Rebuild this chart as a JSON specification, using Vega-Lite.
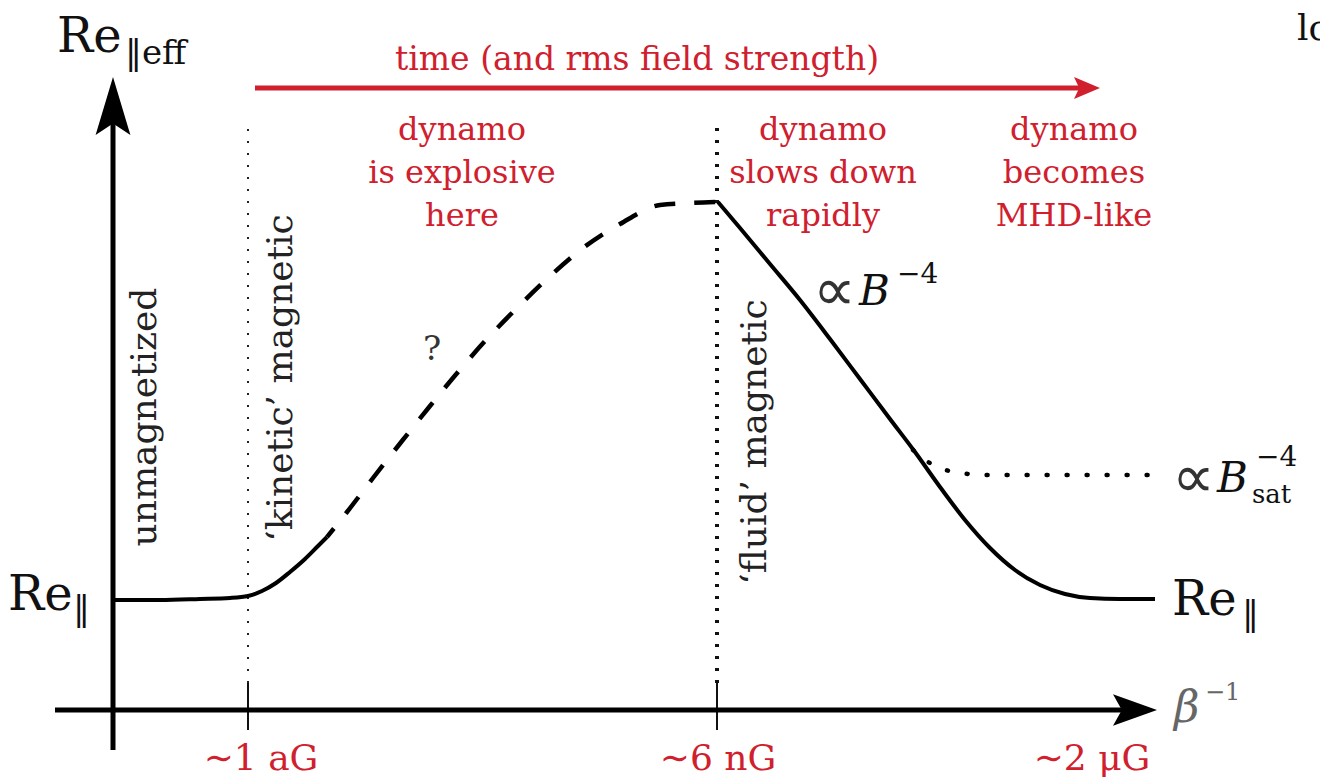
{
  "$schema": "https://vega.github.io/schema/vega-lite/v6.json",
  "width": 1320,
  "height": 783,
  "autosize": {"type": "fit", "contains": "padding"},
  "padding": 0,
  "background": "white",
  "config": {"view": {"stroke": null}, "font": "DejaVu Serif"},
  "datasets": {
    "yAxis": [{"x": 11.3, "y": 3.3, "y2": 66.3}],
    "xAxis": [{"x": 5.5, "x2": 113.0, "y": 7.3}],
    "ticks": [
      {"x": 24.8, "y": 5.3, "y2": 10.0},
      {"x": 71.7, "y": 5.3, "y2": 10.0}
    ],
    "boundaries": [
      {"x": 24.8, "y": 10.0, "y2": 65.8, "regime": "kinetic"},
      {"x": 71.7, "y": 10.0, "y2": 65.8, "regime": "fluid"}
    ],
    "timeArrow": [{"x": 25.5, "x2": 108.5, "y": 69.5}],
    "heads": [
      {"x": 11.3, "y": 67.7, "axis": "Re"},
      {"x": 113.5, "y": 7.3, "axis": "beta"},
      {"x": 108.7, "y": 69.5, "axis": "time"}
    ],
    "curve": [
      {"part": "unmagnetized", "x": 11.3, "y": 18.3},
      {"part": "unmagnetized", "x": 16.0, "y": 18.3},
      {"part": "unmagnetized", "x": 20.0, "y": 18.4},
      {"part": "unmagnetized", "x": 23.0, "y": 18.5},
      {"part": "unmagnetized", "x": 24.8, "y": 18.7},
      {"part": "unmagnetized", "x": 26.2, "y": 19.2},
      {"part": "unmagnetized", "x": 27.6, "y": 20.0},
      {"part": "unmagnetized", "x": 29.0, "y": 21.1},
      {"part": "unmagnetized", "x": 30.5, "y": 22.4},
      {"part": "unmagnetized", "x": 31.8, "y": 23.7},
      {"part": "unmagnetized", "x": 32.7, "y": 24.6},
      {"part": "explosive", "x": 32.7, "y": 24.6},
      {"part": "explosive", "x": 34.7, "y": 27.1},
      {"part": "explosive", "x": 37.3, "y": 30.5},
      {"part": "explosive", "x": 40.2, "y": 34.2},
      {"part": "explosive", "x": 43.0, "y": 37.7},
      {"part": "explosive", "x": 45.8, "y": 41.1},
      {"part": "explosive", "x": 48.6, "y": 44.3},
      {"part": "explosive", "x": 51.8, "y": 47.6},
      {"part": "explosive", "x": 54.9, "y": 50.6},
      {"part": "explosive", "x": 58.3, "y": 53.5},
      {"part": "explosive", "x": 62.0, "y": 55.9},
      {"part": "explosive", "x": 66.0, "y": 57.8},
      {"part": "explosive", "x": 69.0, "y": 58.0},
      {"part": "explosive", "x": 71.7, "y": 58.1},
      {"part": "fluid", "x": 71.8, "y": 58.1},
      {"part": "fluid", "x": 74.0, "y": 55.5},
      {"part": "fluid", "x": 77.0, "y": 51.9},
      {"part": "fluid", "x": 80.0, "y": 48.3},
      {"part": "fluid", "x": 83.0, "y": 44.4},
      {"part": "fluid", "x": 86.0, "y": 40.4},
      {"part": "fluid", "x": 89.0, "y": 36.4},
      {"part": "fluid", "x": 91.5, "y": 33.1},
      {"part": "fluid", "x": 94.0, "y": 29.6},
      {"part": "fluid", "x": 96.5, "y": 26.3},
      {"part": "fluid", "x": 99.0, "y": 23.5},
      {"part": "fluid", "x": 101.5, "y": 21.3},
      {"part": "fluid", "x": 104.0, "y": 19.8},
      {"part": "fluid", "x": 106.5, "y": 18.9},
      {"part": "fluid", "x": 109.0, "y": 18.5},
      {"part": "fluid", "x": 112.0, "y": 18.4},
      {"part": "fluid", "x": 115.5, "y": 18.4},
      {"part": "saturated", "x": 91.3, "y": 33.3},
      {"part": "saturated", "x": 92.5, "y": 32.3},
      {"part": "saturated", "x": 94.0, "y": 31.5},
      {"part": "saturated", "x": 96.0, "y": 31.0},
      {"part": "saturated", "x": 99.0, "y": 30.8},
      {"part": "saturated", "x": 116.0, "y": 30.8}
    ],
    "labels": [
      {"kind": "symbol", "text": "Re", "x": 5.7, "y": 73.1},
      {"kind": "symbol", "text": "Re", "x": 0.8, "y": 17.3},
      {"kind": "symbol", "text": "Re", "x": 117.2, "y": 16.8},
      {"kind": "sub", "text": "‖eff", "x": 12.5, "y": 71.9},
      {"kind": "sub", "text": "‖", "x": 7.3, "y": 16.3},
      {"kind": "sub", "text": "‖", "x": 124.2, "y": 15.8},
      {"kind": "propto", "text": "∝", "x": 81.3, "y": 47.3},
      {"kind": "propto", "text": "∝", "x": 117.2, "y": 28.6},
      {"kind": "magnetic", "text": "B", "x": 85.9, "y": 47.8},
      {"kind": "magnetic", "text": "B", "x": 121.7, "y": 29.1},
      {"kind": "power", "text": "−4", "x": 89.7, "y": 50.0},
      {"kind": "power", "text": "−4", "x": 125.6, "y": 31.7},
      {"kind": "index", "text": "sat", "x": 125.2, "y": 28.0},
      {"kind": "question", "text": "?", "x": 43.2, "y": 42.3},
      {"kind": "corner", "text": "lo", "x": 129.7, "y": 74.3},
      {"kind": "beta", "text": "β", "x": 117.4, "y": 6.1},
      {"kind": "betaPower", "text": "−1", "x": 120.5, "y": 8.3},
      {"kind": "regime", "text": "unmagnetized", "x": 14.5, "y": 36.6},
      {"kind": "regime", "text": "‘kinetic’ magnetic", "x": 28.1, "y": 40.5},
      {"kind": "regime", "text": "‘fluid’ magnetic", "x": 75.5, "y": 34.1},
      {"kind": "time", "text": "time (and rms field strength)", "x": 63.7, "y": 71.3},
      {"kind": "stage", "text": "dynamo\nis explosive\nhere", "x": 46.2, "y": 64.3},
      {"kind": "stage", "text": "dynamo\nslows down\nrapidly", "x": 82.3, "y": 64.3},
      {"kind": "stage", "text": "dynamo\nbecomes\nMHD-like", "x": 107.4, "y": 64.3},
      {"kind": "field", "text": "∼1 aG", "x": 26.1, "y": 1.3},
      {"kind": "field", "text": "∼6 nG", "x": 71.8, "y": 1.3},
      {"kind": "field", "text": "∼2 μG", "x": 109.2, "y": 1.3}
    ]
  },
  "encoding": {
    "x": {"field": "x", "type": "quantitative", "scale": {"domain": [0, 132], "nice": false, "zero": false}, "axis": null},
    "y": {"field": "y", "type": "quantitative", "scale": {"domain": [0, 78.3], "nice": false, "zero": false}, "axis": null}
  },
  "layer": [
    {
      "data": {"name": "boundaries"},
      "transform": [{"filter": "datum.regime === 'kinetic'"}],
      "mark": {"type": "rule", "color": "#222", "strokeWidth": 2, "strokeDash": [2, 10]},
      "encoding": {"y2": {"field": "y2"}}
    },
    {
      "data": {"name": "boundaries"},
      "transform": [{"filter": "datum.regime === 'fluid'"}],
      "mark": {"type": "rule", "color": "#111", "strokeWidth": 4, "strokeDash": [3, 9]},
      "encoding": {"y2": {"field": "y2"}}
    },
    {
      "data": {"name": "ticks"},
      "mark": {"type": "rule", "color": "#111", "strokeWidth": 2},
      "encoding": {"y2": {"field": "y2"}}
    },
    {
      "data": {"name": "yAxis"},
      "mark": {"type": "rule", "color": "black", "strokeWidth": 5},
      "encoding": {"y2": {"field": "y2"}}
    },
    {
      "data": {"name": "xAxis"},
      "mark": {"type": "rule", "color": "black", "strokeWidth": 5},
      "encoding": {"x2": {"field": "x2"}}
    },
    {
      "data": {"name": "timeArrow"},
      "mark": {"type": "rule", "color": "#d0202e", "strokeWidth": 5},
      "encoding": {"x2": {"field": "x2"}}
    },
    {
      "data": {"name": "heads"},
      "transform": [{"filter": "datum.axis === 'Re'"}],
      "mark": {"type": "point", "filled": true, "color": "black", "opacity": 1, "size": 3364, "shape": "M0,-1 L0.6,1 L0,0.6 L-0.6,1 Z"}
    },
    {
      "data": {"name": "heads"},
      "transform": [{"filter": "datum.axis === 'beta'"}],
      "mark": {"type": "point", "filled": true, "color": "black", "opacity": 1, "size": 1936, "shape": "M1,0 L-1,0.72 L-0.6,0 L-1,-0.72 Z"}
    },
    {
      "data": {"name": "heads"},
      "transform": [{"filter": "datum.axis === 'time'"}],
      "mark": {"type": "point", "filled": true, "color": "#d0202e", "opacity": 1, "size": 676, "shape": "M1,0 L-1,0.85 L-0.6,0 L-1,-0.85 Z"}
    },
    {
      "data": {"name": "curve"},
      "transform": [{"filter": "datum.part === 'unmagnetized' || datum.part === 'fluid'"}],
      "mark": {"type": "line", "color": "black", "strokeWidth": 4, "interpolate": "monotone"},
      "encoding": {"detail": {"field": "part"}}
    },
    {
      "data": {"name": "curve"},
      "transform": [{"filter": "datum.part === 'explosive'"}],
      "mark": {"type": "line", "color": "black", "strokeWidth": 4.5, "interpolate": "monotone", "strokeDash": [21, 19], "strokeDashOffset": 10}
    },
    {
      "data": {"name": "curve"},
      "transform": [{"filter": "datum.part === 'saturated'"}],
      "mark": {"type": "line", "color": "black", "strokeWidth": 4.5, "interpolate": "monotone", "strokeDash": [1, 19], "strokeCap": "round"}
    },
    {
      "data": {"name": "labels"},
      "transform": [{"filter": "datum.kind === 'symbol'"}],
      "mark": {"type": "text", "align": "left", "baseline": "alphabetic", "fontSize": 48, "color": "#111"},
      "encoding": {"text": {"field": "text"}}
    },
    {
      "data": {"name": "labels"},
      "transform": [{"filter": "datum.kind === 'sub'"}],
      "mark": {"type": "text", "align": "left", "baseline": "alphabetic", "fontSize": 34, "color": "#111"},
      "encoding": {"text": {"field": "text"}}
    },
    {
      "data": {"name": "labels"},
      "transform": [{"filter": "datum.kind === 'propto'"}],
      "mark": {"type": "text", "align": "left", "baseline": "alphabetic", "fontSize": 60, "font": "DejaVu Sans", "fontWeight": 300, "color": "#333"},
      "encoding": {"text": {"field": "text"}}
    },
    {
      "data": {"name": "labels"},
      "transform": [{"filter": "datum.kind === 'magnetic'"}],
      "mark": {"type": "text", "align": "left", "baseline": "alphabetic", "fontSize": 42, "fontStyle": "italic", "color": "#111"},
      "encoding": {"text": {"field": "text"}}
    },
    {
      "data": {"name": "labels"},
      "transform": [{"filter": "datum.kind === 'power'"}],
      "mark": {"type": "text", "align": "left", "baseline": "alphabetic", "fontSize": 28, "color": "#111"},
      "encoding": {"text": {"field": "text"}}
    },
    {
      "data": {"name": "labels"},
      "transform": [{"filter": "datum.kind === 'index'"}],
      "mark": {"type": "text", "align": "left", "baseline": "alphabetic", "fontSize": 26, "color": "#111"},
      "encoding": {"text": {"field": "text"}}
    },
    {
      "data": {"name": "labels"},
      "transform": [{"filter": "datum.kind === 'question'"}],
      "mark": {"type": "text", "align": "center", "baseline": "alphabetic", "fontSize": 34, "color": "#333"},
      "encoding": {"text": {"field": "text"}}
    },
    {
      "data": {"name": "labels"},
      "transform": [{"filter": "datum.kind === 'corner'"}],
      "mark": {"type": "text", "align": "left", "baseline": "alphabetic", "fontSize": 36, "color": "#111", "clip": true},
      "encoding": {"text": {"field": "text"}}
    },
    {
      "data": {"name": "labels"},
      "transform": [{"filter": "datum.kind === 'beta'"}],
      "mark": {"type": "text", "align": "left", "baseline": "alphabetic", "fontSize": 44, "fontStyle": "italic", "color": "#666"},
      "encoding": {"text": {"field": "text"}}
    },
    {
      "data": {"name": "labels"},
      "transform": [{"filter": "datum.kind === 'betaPower'"}],
      "mark": {"type": "text", "align": "left", "baseline": "alphabetic", "fontSize": 24, "color": "#666"},
      "encoding": {"text": {"field": "text"}}
    },
    {
      "data": {"name": "labels"},
      "transform": [{"filter": "datum.kind === 'regime'"}],
      "mark": {"type": "text", "align": "center", "baseline": "middle", "angle": 270, "fontSize": 36, "color": "#222"},
      "encoding": {"text": {"field": "text"}}
    },
    {
      "data": {"name": "labels"},
      "transform": [{"filter": "datum.kind === 'time'"}],
      "mark": {"type": "text", "align": "center", "baseline": "alphabetic", "fontSize": 33, "color": "#d0202e"},
      "encoding": {"text": {"field": "text"}}
    },
    {
      "data": {"name": "labels"},
      "transform": [{"filter": "datum.kind === 'stage'"}],
      "mark": {"type": "text", "align": "center", "baseline": "alphabetic", "fontSize": 32, "lineHeight": 43, "lineBreak": "\n", "color": "#d0202e"},
      "encoding": {"text": {"field": "text"}}
    },
    {
      "data": {"name": "labels"},
      "transform": [{"filter": "datum.kind === 'field'"}],
      "mark": {"type": "text", "align": "center", "baseline": "alphabetic", "fontSize": 36, "color": "#d0202e"},
      "encoding": {"text": {"field": "text"}}
    }
  ]
}
